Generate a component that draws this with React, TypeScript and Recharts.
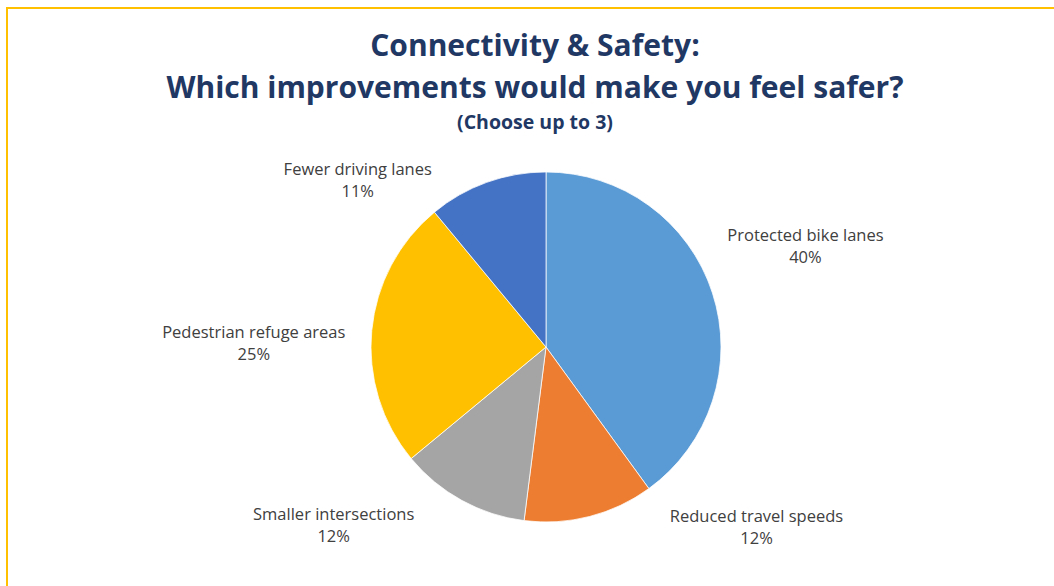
import React from 'react';
import { PieChart, Pie, Cell } from 'recharts';

const categories = [
  'Protected bike lanes',
  'Reduced travel speeds',
  'Smaller intersections',
  'Pedestrian refuge areas',
  'Fewer driving lanes'
];
const shares = [40, 12, 12, 25, 11];
const colors = ['#5B9BD5', '#ED7D31', '#A5A5A5', '#FFC000', '#4472C4'];

// where each label sits relative to the slice's outer edge (Excel "best fit" look)
const labelOffsets: Record<string, [number, number]> = {
  'Protected bike lanes': [93, -47],
  'Reduced travel speeds': [167, 10],
  'Smaller intersections': [-128, 25],
  'Pedestrian refuge areas': [-118, 12],
  'Fewer driving lanes': [-129, -2]
};

const data = categories.map((name, i) => ({ name, value: shares[i] }));

const RADIAN = Math.PI / 180;

const renderLabel = (props: any) => {
  const { cx, cy, midAngle, outerRadius, name, value } = props;
  const ex = cx + outerRadius * Math.cos(-midAngle * RADIAN);
  const ey = cy + outerRadius * Math.sin(-midAngle * RADIAN);
  const [dx, dy] = labelOffsets[name] ?? [0, 0];
  const x = ex + dx;
  const y = ey + dy;
  return (
    <text
      x={x}
      y={y}
      textAnchor="middle"
      fill="#404040"
      fontSize={16.5}
      fontFamily="'Open Sans', sans-serif"
    >
      <tspan x={x} dy={-5}>{name}</tspan>
      <tspan x={x} dy={22}>{value}%</tspan>
    </text>
  );
};

const titleStyle: React.CSSProperties = {
  position: 'absolute',
  left: 0,
  width: 1070,
  textAlign: 'center',
  color: '#1F3864',
  fontFamily: "'Open Sans', sans-serif",
  fontWeight: 700,
  whiteSpace: 'nowrap'
};

export default function App() {
  return (
    <div style={{ position: 'absolute', left: 0, top: 0, width: 1054, height: 586, overflow: 'hidden', background: '#fff' }}>
      <div
        style={{
          position: 'absolute',
          left: 6,
          top: 7,
          width: 1100,
          height: 640,
          borderTop: '2px solid #FFC000',
          borderLeft: '2px solid #FFC000'
        }}
      />
      <div style={{ ...titleStyle, top: 24, fontSize: 30, lineHeight: '42px' }}>Connectivity &amp; Safety:</div>
      <div style={{ ...titleStyle, top: 66, fontSize: 30, lineHeight: '42px' }}>Which improvements would make you feel safer?</div>
      <div style={{ ...titleStyle, top: 109, fontSize: 19.5, lineHeight: '26px' }}>(Choose up to 3)</div>
      <div style={{ position: 'absolute', left: 0, top: 0 }}>
        <PieChart width={1054} height={586} margin={{ top: 0, right: 0, bottom: 0, left: 0 }}>
          <Pie
            data={data}
            dataKey="value"
            nameKey="name"
            cx={546}
            cy={347}
            outerRadius={175}
            startAngle={90}
            endAngle={-270}
            stroke="#ffffff"
            strokeWidth={0.75}
            label={renderLabel}
            labelLine={false}
            isAnimationActive={false}
          >
            {data.map((entry, index) => (
              <Cell key={entry.name} fill={colors[index]} />
            ))}
          </Pie>
        </PieChart>
      </div>
    </div>
  );
}
